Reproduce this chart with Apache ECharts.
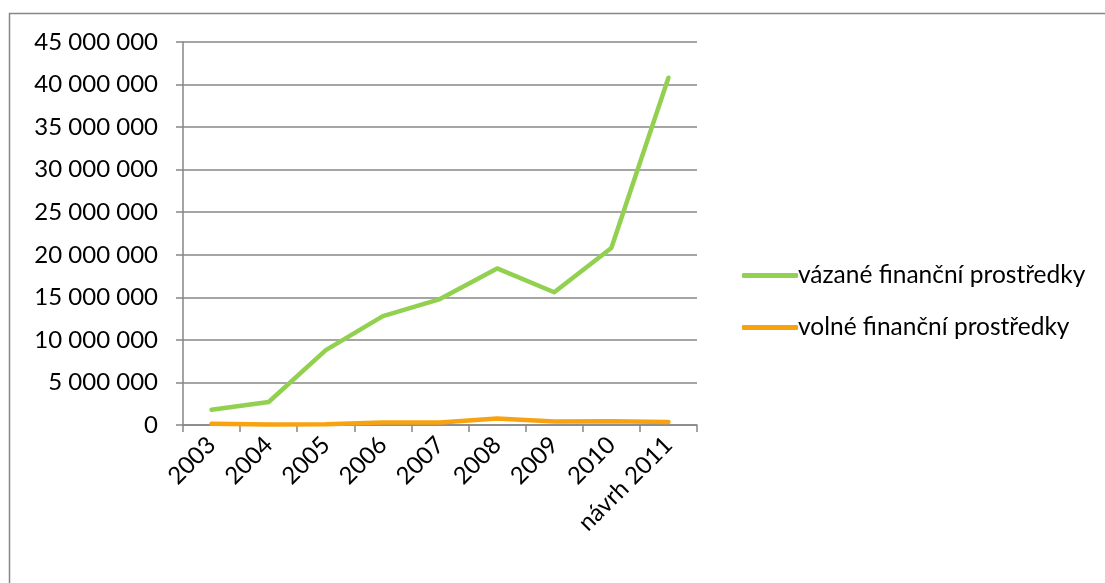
<!DOCTYPE html>
<html>
<head>
<meta charset="utf-8">
<script src="https://cdn.jsdelivr.net/npm/echarts@6/dist/echarts.min.js"></script>
<style>
  html, body { margin: 0; padding: 0; background: #fff; }
  #chart-1 { width: 1105px; height: 583px; }
</style>
</head>
<body>
<div id="chart-1"></div>
<script>
const categories = ['2003', '2004', '2005', '2006', '2007', '2008', '2009', '2010', 'návrh 2011'];
const vazane = [1800000, 2700000, 8800000, 12800000, 14800000, 18400000, 15600000, 20800000, 40800000];
const volne = [150000, 50000, 100000, 300000, 300000, 750000, 400000, 450000, 350000];

const FONT = 'Lato';
const FS = 24;

function fmt(v) {
    return String(v).replace(/\B(?=(\d{3})+(?!\d))/g, ' ');
}

const TheChart = echarts.init(document.getElementById('chart-1'));

TheChart.setOption({
    animation: false,
    textStyle: { fontFamily: FONT },
    graphic: [{
        type: 'polyline',
        shape: { points: [[9.5, 583], [9.5, 13.5], [1105, 13.5]] },
        style: { fill: 'none', stroke: '#878787', lineWidth: 1.5 }
    }],
    grid: { left: 183, top: 42, right: 408, bottom: 158 },
    legend: {
        orient: 'vertical',
        left: 737,
        top: 258,
        itemGap: 27,
        itemWidth: 56,
        itemHeight: 5,
        icon: 'roundRect',
        textStyle: { fontFamily: FONT, fontSize: 24.5, color: '#000', padding: [0, 0, 0, -5] },
        data: ['vázané finanční prostředky', 'volné finanční prostředky']
    },
    xAxis: {
        type: 'category',
        data: categories,
        boundaryGap: true,
        axisLine: { lineStyle: { color: '#868686', width: 1.5 } },
        axisTick: { show: true, length: 7, alignWithLabel: false, lineStyle: { color: '#868686', width: 1.5 } },
        axisLabel: { rotate: 45, margin: 16, fontSize: FS, color: '#000', fontFamily: FONT, interval: 0 }
    },
    yAxis: {
        type: 'value',
        min: 0,
        max: 45000000,
        interval: 5000000,
        axisLine: { show: true, lineStyle: { color: '#868686', width: 1.5 } },
        axisTick: { show: true, length: 7, lineStyle: { color: '#868686', width: 1.5 } },
        splitLine: { lineStyle: { color: '#878787', width: 1.5 } },
        axisLabel: { margin: 25, fontSize: FS, color: '#000', fontFamily: FONT, formatter: fmt }
    },
    series: [{
        name: 'vázané finanční prostředky',
        type: 'line',
        data: vazane,
        symbol: 'none',
        lineStyle: { color: '#92D050', width: 4.5, cap: 'round', join: 'round' },
        itemStyle: { color: '#92D050' }
    }, {
        name: 'volné finanční prostředky',
        type: 'line',
        data: volne,
        symbol: 'none',
        lineStyle: { color: '#F7A20E', width: 4.5, cap: 'round', join: 'round' },
        itemStyle: { color: '#F7A20E' }
    }]
});
</script>
</body>
</html>
